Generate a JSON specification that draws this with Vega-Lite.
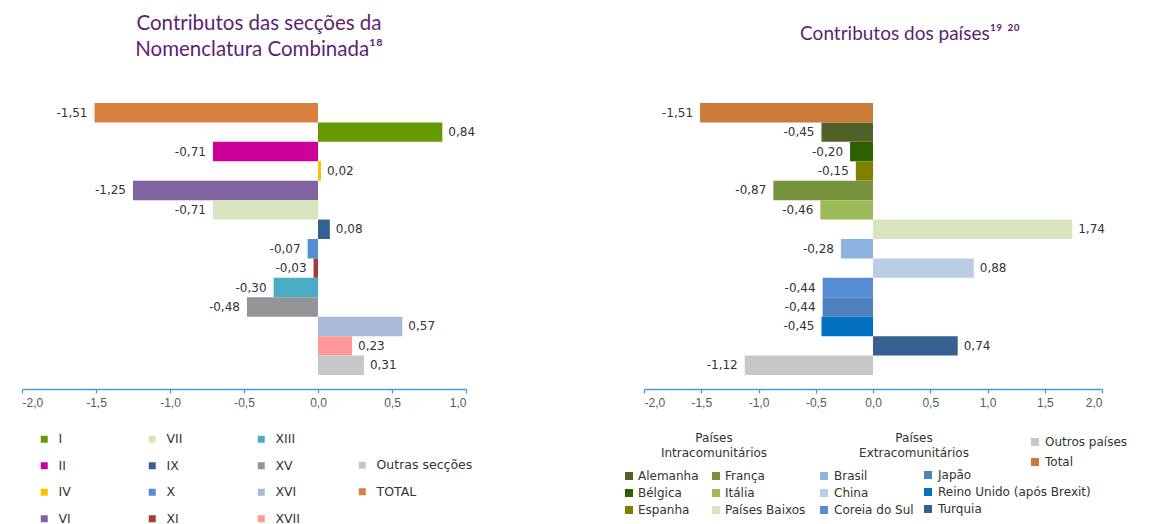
{
  "$schema": "https://vega.github.io/schema/vega-lite/v6.json",
  "background": "white",
  "padding": {"left": 21, "top": 13, "right": 0, "bottom": 0},
  "config": {
    "view": {"stroke": null},
    "locale": {"number": {"decimal": ",", "thousands": ".", "grouping": [3], "currency": ["", " €"], "minus": "-"}},
    "legend": {"symbolStrokeWidth": 0, "symbolOpacity": 1, "symbolType": "square", "labelColor": "#333333", "titleColor": "#333333", "labelFont": "DejaVu Sans", "titleFont": "DejaVu Sans"},
    "axisX": {
      "title": null, "grid": false, "format": ".1f", "offset": 14,
      "domainColor": "#4A9BD0", "domainWidth": 1.3, "tickColor": "#4A9BD0", "tickSize": 4, "tickWidth": 1.3,
      "labelColor": "#595959", "labelFont": "Liberation Sans", "labelFontSize": 12, "labelPadding": 4
    }
  },
  "datasets": {
    "seccoes": [
      {"cat": "TOTAL", "v": -1.51},
      {"cat": "I", "v": 0.84},
      {"cat": "II", "v": -0.71},
      {"cat": "IV", "v": 0.02},
      {"cat": "VI", "v": -1.25},
      {"cat": "VII", "v": -0.71},
      {"cat": "IX", "v": 0.08},
      {"cat": "X", "v": -0.07},
      {"cat": "XI", "v": -0.03},
      {"cat": "XIII", "v": -0.30},
      {"cat": "XV", "v": -0.48},
      {"cat": "XVI", "v": 0.57},
      {"cat": "XVII", "v": 0.23},
      {"cat": "Outras secções", "v": 0.31}
    ],
    "paises": [
      {"cat": "Total", "v": -1.51},
      {"cat": "Alemanha", "v": -0.45},
      {"cat": "Bélgica", "v": -0.20},
      {"cat": "Espanha", "v": -0.15},
      {"cat": "França", "v": -0.87},
      {"cat": "Itália", "v": -0.46},
      {"cat": "Países Baixos", "v": 1.74},
      {"cat": "Brasil", "v": -0.28},
      {"cat": "China", "v": 0.88},
      {"cat": "Coreia do Sul", "v": -0.44},
      {"cat": "Japão", "v": -0.44},
      {"cat": "Reino Unido (após Brexit)", "v": -0.45},
      {"cat": "Turquia", "v": 0.74},
      {"cat": "Outros países", "v": -1.12}
    ]
  },
  "bounds": "flush",
  "spacing": 178,
  "hconcat": [
    {
      "width": 444,
      "height": 272,
      "title": {"text": ["Contributos das secções da", "Nomenclatura Combinada¹⁸"], "anchor": "middle", "dx": 15, "offset": 43, "font": "Lato", "fontSize": 20.5, "fontWeight": "normal", "color": "#5E1F73", "lineHeight": 26},
      "data": {"name": "seccoes"},
      "encoding": {
        "y": {"field": "cat", "type": "nominal", "axis": null, "scale": {"domain": ["TOTAL", "I", "II", "IV", "VI", "VII", "IX", "X", "XI", "XIII", "XV", "XVI", "XVII", "Outras secções"], "paddingInner": 0, "paddingOuter": 0}},
        "x": {"field": "v", "type": "quantitative", "scale": {"domain": [-2, 1], "nice": false}, "axis": {"values": [-2, -1.5, -1, -0.5, 0, 0.5, 1]}}
      },
      "layer": [
        {
          "transform": [{"filter": {"field": "cat", "oneOf": ["I", "II", "IV", "VI"]}}],
          "mark": {"type": "bar"},
          "encoding": {"color": {"field": "cat", "type": "nominal", "scale": {"domain": ["I", "II", "IV", "VI"], "range": ["#669900", "#CC0099", "#FFC000", "#8064A2"]}, "legend": {"orient": "none", "legendX": 16, "legendY": 330, "title": null, "direction": "vertical", "symbolSize": 49, "labelFontSize": 12.5, "labelOffset": 8, "rowPadding": 13.5}}}
        },
        {
          "transform": [{"filter": {"field": "cat", "oneOf": ["VII", "IX", "X", "XI"]}}],
          "mark": {"type": "bar"},
          "encoding": {"color": {"field": "cat", "type": "nominal", "scale": {"domain": ["VII", "IX", "X", "XI"], "range": ["#D7E4BD", "#376092", "#558ED5", "#A33B3B"]}, "legend": {"orient": "none", "legendX": 124, "legendY": 330, "title": null, "direction": "vertical", "symbolSize": 49, "labelFontSize": 12.5, "labelOffset": 8, "rowPadding": 13.5}}}
        },
        {
          "transform": [{"filter": {"field": "cat", "oneOf": ["XIII", "XV", "XVI", "XVII"]}}],
          "mark": {"type": "bar"},
          "encoding": {"color": {"field": "cat", "type": "nominal", "scale": {"domain": ["XIII", "XV", "XVI", "XVII"], "range": ["#4BACC6", "#939598", "#A9BAD9", "#FF9999"]}, "legend": {"orient": "none", "legendX": 233, "legendY": 330, "title": null, "direction": "vertical", "symbolSize": 49, "labelFontSize": 12.5, "labelOffset": 8, "rowPadding": 13.5}}}
        },
        {
          "transform": [{"filter": {"field": "cat", "oneOf": ["Outras secções", "TOTAL"]}}],
          "mark": {"type": "bar"},
          "encoding": {"color": {"field": "cat", "type": "nominal", "scale": {"domain": ["Outras secções", "TOTAL"], "range": ["#C6C7C9", "#D9813F"]}, "legend": {"orient": "none", "legendX": 334, "legendY": 356, "title": null, "direction": "vertical", "symbolSize": 49, "labelFontSize": 12.5, "labelOffset": 8, "rowPadding": 13.5}}}
        },
        {
          "transform": [{"filter": "datum.v < 0"}],
          "mark": {"type": "text", "align": "right", "dx": -7, "font": "DejaVu Sans", "fontSize": 12, "color": "#333333"},
          "encoding": {"text": {"field": "v", "type": "quantitative", "format": ".2f"}}
        },
        {
          "transform": [{"filter": "datum.v >= 0"}],
          "mark": {"type": "text", "align": "left", "dx": 6, "font": "DejaVu Sans", "fontSize": 12, "color": "#333333"},
          "encoding": {"text": {"field": "v", "type": "quantitative", "format": ".2f"}}
        }
      ],
      "resolve": {"scale": {"color": "independent"}, "legend": {"color": "independent"}}
    },
    {
      "width": 458,
      "height": 272,
      "title": {"text": "Contributos dos países¹⁹ ²⁰", "anchor": "middle", "dx": 37, "offset": 59, "font": "Lato", "fontSize": 19, "fontWeight": "normal", "color": "#5E1F73"},
      "data": {"name": "paises"},
      "encoding": {
        "y": {"field": "cat", "type": "nominal", "axis": null, "scale": {"domain": ["Total", "Alemanha", "Bélgica", "Espanha", "França", "Itália", "Países Baixos", "Brasil", "China", "Coreia do Sul", "Japão", "Reino Unido (após Brexit)", "Turquia", "Outros países"], "paddingInner": 0, "paddingOuter": 0}},
        "x": {"field": "v", "type": "quantitative", "scale": {"domain": [-2, 2], "nice": false}, "axis": {"values": [-2, -1.5, -1, -0.5, 0, 0.5, 1, 1.5, 2]}}
      },
      "layer": [
        {
          "transform": [{"filter": {"field": "cat", "oneOf": ["Alemanha", "Bélgica", "Espanha", "França", "Itália", "Países Baixos"]}}],
          "mark": {"type": "bar"},
          "encoding": {"color": {"field": "cat", "type": "nominal", "scale": {"domain": ["Alemanha", "Bélgica", "Espanha", "França", "Itália", "Países Baixos"], "range": ["#4F6228", "#2D5E00", "#808000", "#77933C", "#9BBB59", "#D7E4BD"]}, "legend": {"orient": "none", "legendX": -21, "legendY": 330, "columns": 2, "columnPadding": 11, "title": ["Países", "Intracomunitários"], "titleFontSize": 12, "titleFontWeight": "normal", "titleAnchor": "middle", "titleAlign": "center", "titleLineHeight": 15, "titlePadding": 10, "symbolSize": 64, "labelFontSize": 12, "labelOffset": 3, "rowPadding": 5}}}
        },
        {
          "transform": [{"filter": {"field": "cat", "oneOf": ["Brasil", "China", "Coreia do Sul"]}}],
          "mark": {"type": "bar"},
          "encoding": {"color": {"field": "cat", "type": "nominal", "scale": {"domain": ["Brasil", "China", "Coreia do Sul"], "range": ["#8EB4E3", "#B9CDE5", "#558ED5"]}, "legend": {"orient": "none", "legendX": 174, "legendY": 330, "direction": "vertical", "title": ["Países\u00a0\u00a0\u00a0\u00a0\u00a0\u00a0\u00a0\u00a0\u00a0\u00a0", "Extracomunitários\u00a0\u00a0\u00a0\u00a0\u00a0\u00a0\u00a0\u00a0\u00a0\u00a0"], "titleFontSize": 12, "titleFontWeight": "normal", "titleAnchor": "end", "titleAlign": "center", "titleLineHeight": 15, "titlePadding": 10, "symbolSize": 64, "labelFontSize": 12, "labelOffset": 4, "rowPadding": 5}}}
        },
        {
          "transform": [{"filter": {"field": "cat", "oneOf": ["Japão", "Reino Unido (após Brexit)", "Turquia"]}}],
          "mark": {"type": "bar"},
          "encoding": {"color": {"field": "cat", "type": "nominal", "scale": {"domain": ["Japão", "Reino Unido (após Brexit)", "Turquia"], "range": ["#4F81BD", "#0070C0", "#376092"]}, "legend": {"orient": "none", "legendX": 278, "legendY": 366, "direction": "vertical", "title": null, "symbolSize": 64, "labelFontSize": 12, "labelOffset": 4, "rowPadding": 5}}}
        },
        {
          "transform": [{"filter": {"field": "cat", "oneOf": ["Outros países", "Total"]}}],
          "mark": {"type": "bar"},
          "encoding": {"color": {"field": "cat", "type": "nominal", "scale": {"domain": ["Outros países", "Total"], "range": ["#C6C7C9", "#CC7A38"]}, "legend": {"orient": "none", "legendX": 385, "legendY": 333, "direction": "vertical", "title": null, "symbolSize": 64, "labelFontSize": 12, "labelOffset": 4, "rowPadding": 8}}}
        },
        {
          "transform": [{"filter": "datum.v < 0"}],
          "mark": {"type": "text", "align": "right", "dx": -7, "font": "DejaVu Sans", "fontSize": 12, "color": "#333333"},
          "encoding": {"text": {"field": "v", "type": "quantitative", "format": ".2f"}}
        },
        {
          "transform": [{"filter": "datum.v >= 0"}],
          "mark": {"type": "text", "align": "left", "dx": 6, "font": "DejaVu Sans", "fontSize": 12, "color": "#333333"},
          "encoding": {"text": {"field": "v", "type": "quantitative", "format": ".2f"}}
        }
      ],
      "resolve": {"scale": {"color": "independent"}, "legend": {"color": "independent"}}
    }
  ]
}
